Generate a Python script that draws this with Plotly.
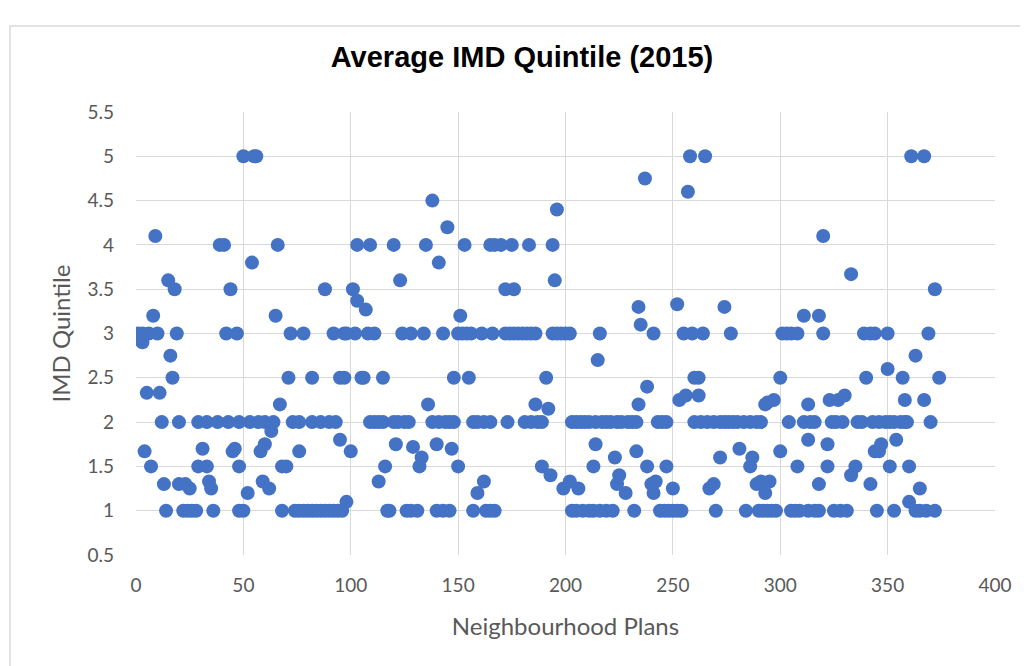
import plotly.graph_objects as go

# (plan index, average IMD quintile)
plan_ids = [
    1, 3, 3, 4, 5, 6, 7, 8, 9, 10, 11, 12, 13, 14, 15, 16, 17, 18, 19, 20, 20, 22, 23, 24, 25, 26, 28, 29, 29, 31,
    33, 33, 34, 35, 36, 38, 39, 41, 42, 43, 44, 45, 46, 47, 48, 48, 48,
    50, 55, 56, 50, 52, 53, 54, 57, 58, 59, 60, 60, 62, 63, 64, 65, 66, 67, 68, 68, 70, 71, 72, 73, 74, 76, 76, 76,
    78, 78, 80, 82, 82, 82, 84, 86, 86, 88, 88, 90, 90, 92, 92, 93, 94, 95, 95, 96, 97, 97, 98, 100,
    98, 101, 102, 103, 103, 105, 106, 107, 108, 109, 109, 111, 111, 113, 113, 115, 115, 116, 117, 118, 120, 120,
    121, 122, 123, 124, 125, 126, 127, 128, 128, 129, 131, 132, 133, 134, 135, 136, 138, 138, 140, 140, 141, 141,
    143, 143, 144, 145, 146,
    146, 147, 148, 148, 150, 150, 151, 152, 153, 154, 155, 156, 157, 157, 159, 159, 161, 162, 162, 163, 165, 165,
    165, 166, 167, 167, 170, 172, 172, 173, 174, 175, 176, 176, 178, 180, 181, 182, 183, 184, 184, 186, 186, 187,
    189, 189, 191, 192, 193, 194, 194, 195, 196,
    196, 198, 199, 200, 202, 202, 203, 203, 205, 205, 206, 207, 208, 209, 211, 211, 213, 213, 214, 214, 215, 216,
    216, 217, 219, 219, 221, 222, 223, 224, 224, 225, 226, 228, 229, 231, 232, 233, 233, 234, 234, 235, 237, 238,
    238, 240, 241, 241, 242, 243,
    244, 245, 246, 247, 247, 248, 250, 250, 252, 252, 253, 254, 255, 256, 257, 258, 259, 260, 260, 262, 262, 263,
    264, 265, 266, 267, 269, 269, 270, 272, 272, 274, 274, 276, 277, 278, 280, 281, 283, 284, 286, 286, 287, 289,
    289, 290, 291, 292, 293,
    291, 293, 294, 294, 295, 296, 297, 298, 300, 300, 301, 303, 304, 305, 305, 307, 308, 308, 309, 311, 311, 313,
    313, 313, 314, 316, 316, 318, 318, 318, 320, 320, 322, 322, 323, 324, 325, 326, 327, 328, 329, 330, 331, 333,
    333, 335, 336, 338, 339, 340,
    342, 342, 343, 344, 344, 345, 346, 346, 347, 349, 350, 350, 351, 351, 353, 353, 354, 356, 357, 358, 358, 359,
    360, 360, 361, 363, 363, 365, 365, 367, 367, 368, 369, 370, 372, 372, 374,
]

imd_quintile = [
    3, 3, 2.9, 1.67, 2.33, 3, 1.5, 3.2, 4.1, 3, 2.33, 2, 1.3, 1, 3.6, 2.75, 2.5, 3.5, 3, 2, 1.3, 1, 1.3, 1, 1.25, 1, 1, 2, 1.5, 1.7,
    2, 1.5, 1.33, 1.25, 1, 2, 4, 4, 3, 2, 3.5, 1.67, 1.7, 3, 1.5, 2, 1,
    5, 5, 5, 1, 1.2, 2, 3.8, 2, 1.67, 1.33, 1.75, 2, 1.25, 1.9, 2, 3.2, 4, 2.2, 1.5, 1, 1.5, 2.5, 3, 2, 1, 2, 1.67, 1,
    3, 1, 1, 2.5, 2, 1, 1, 2, 1, 3.5, 1, 2, 1, 3, 1, 2, 1, 2.5, 1.8, 1, 3, 2.5, 1.1, 1.67,
    3, 3.5, 3, 4, 3.37, 2.5, 2.5, 3.27, 3, 4, 2, 3, 2, 2, 1.33, 2.5, 2, 1.5, 1, 1, 4, 2,
    1.75, 2, 3.6, 3, 2, 1, 2, 3, 1, 1.72, 1, 1.5, 1.6, 3, 4, 2.2, 4.5, 2, 1.75, 1, 3.8, 2,
    3, 1, 2, 4.2, 2,
    1, 1.7, 2.5, 2, 3, 1.5, 3.2, 3, 4, 3, 2.5, 3, 2, 1, 2, 1.2, 3, 2, 1.33, 1, 4, 2,
    1, 3, 4, 1, 4, 3.5, 3, 2, 3, 4, 3.5, 3, 3, 3, 2, 3, 4, 3, 2, 3, 2.2, 2,
    2, 1.5, 2.5, 2.15, 1.4, 4, 3, 3.6, 4.4,
    3, 3, 1.25, 3, 3, 1.33, 2, 1, 2, 1, 1.25, 2, 1, 2, 2, 1, 1.5, 1, 2, 1.75, 2.7, 3,
    1, 2, 2, 1, 2, 1, 1.6, 2, 1.3, 1.4, 2, 1.2, 2, 2, 1, 2, 1.67, 3.3, 2.2, 3.1, 4.75, 2.4,
    1.5, 1.3, 3, 1.2, 1.33, 2,
    1, 2, 1, 2, 1.5, 1, 1.25, 1, 3.33, 1, 2.25, 1, 3, 2.3, 4.6, 5, 3, 2.5, 2, 2.5, 2.3, 2,
    3, 5, 2, 1.25, 2, 1.3, 1, 2, 1.6, 3.3, 2, 2, 3, 2, 2, 1.7, 2, 1, 2, 1.5, 1.6, 2,
    1.3, 1, 1.33, 1, 2.2,
    2, 1.2, 2.22, 1, 1.33, 1, 2.25, 1, 2.5, 1.67, 3, 3, 2, 3, 1, 1, 3, 1.5, 1, 3.2, 2, 2.2,
    1.8, 1, 2, 2, 1, 3.2, 1.3, 1, 4.1, 3, 1.75, 1.5, 2.25, 2, 1, 2, 2.25, 1, 2, 2.3, 1, 3.67,
    1.4, 1.5, 2, 2, 3, 2.5,
    3, 1.3, 2, 3, 1.67, 1, 2, 1.67, 1.75, 2, 3, 2.6, 2, 1.5, 2, 1, 1.8, 2, 2.5, 2.25, 2, 2,
    1.5, 1.1, 5, 2.75, 1, 1.25, 1, 5, 2.25, 1, 3, 2, 3.5, 1, 2.5,
]

x_ticks = [0, 50, 100, 150, 200, 250, 300, 350, 400]
y_ticks = [0.5, 1, 1.5, 2, 2.5, 3, 3.5, 4, 4.5, 5, 5.5]

fig = go.Figure()
fig.add_trace(go.Scatter(
    x=plan_ids, y=imd_quintile, mode="markers",
    marker=dict(size=14, color="#4472C4", line=dict(width=0)),
    showlegend=False, hoverinfo="x+y",
))

grey = "#595959"
fig.update_layout(
    width=1028, height=666,
    margin=dict(l=128, r=41, t=104, b=119),
    paper_bgcolor="white", plot_bgcolor="white",
    font=dict(family="Lato, Open Sans, sans-serif", color=grey),
    title=dict(text="<b>Average IMD Quintile (2015)</b>", x=0.5, xanchor="center",
               y=0.926, yanchor="middle",
               font=dict(family="Liberation Sans, Arial, sans-serif", size=29, color="black")),
    xaxis=dict(range=[0, 400], tickvals=x_ticks, ticktext=[str(v) for v in x_ticks],
               showgrid=True, gridcolor="#d9d9d9", gridwidth=1, zeroline=False,
               showline=False, tickfont=dict(size=19, color=grey), ticks="",
               ticklabelstandoff=17,
               title=dict(text="Neighbourhood Plans", font=dict(size=24, color=grey), standoff=23)),
    yaxis=dict(range=[0.5, 5.5], tickvals=y_ticks, ticktext=[f"{v:g}" for v in y_ticks],
               showgrid=True, gridcolor="#d9d9d9", gridwidth=1, zeroline=False,
               showline=False, tickfont=dict(size=19, color=grey), ticks="",
               ticklabelstandoff=21,
               title=dict(text="IMD Quintile", font=dict(size=24, color=grey), standoff=10)),
    shapes=[dict(type="rect", xref="paper", yref="paper",
                 x0=-0.1467, x1=1.06, y0=-0.35, y1=1.194,
                 line=dict(color="#d9d9d9", width=1.5), fillcolor="rgba(0,0,0,0)", layer="below")],
)

fig.write_html("out.html")
